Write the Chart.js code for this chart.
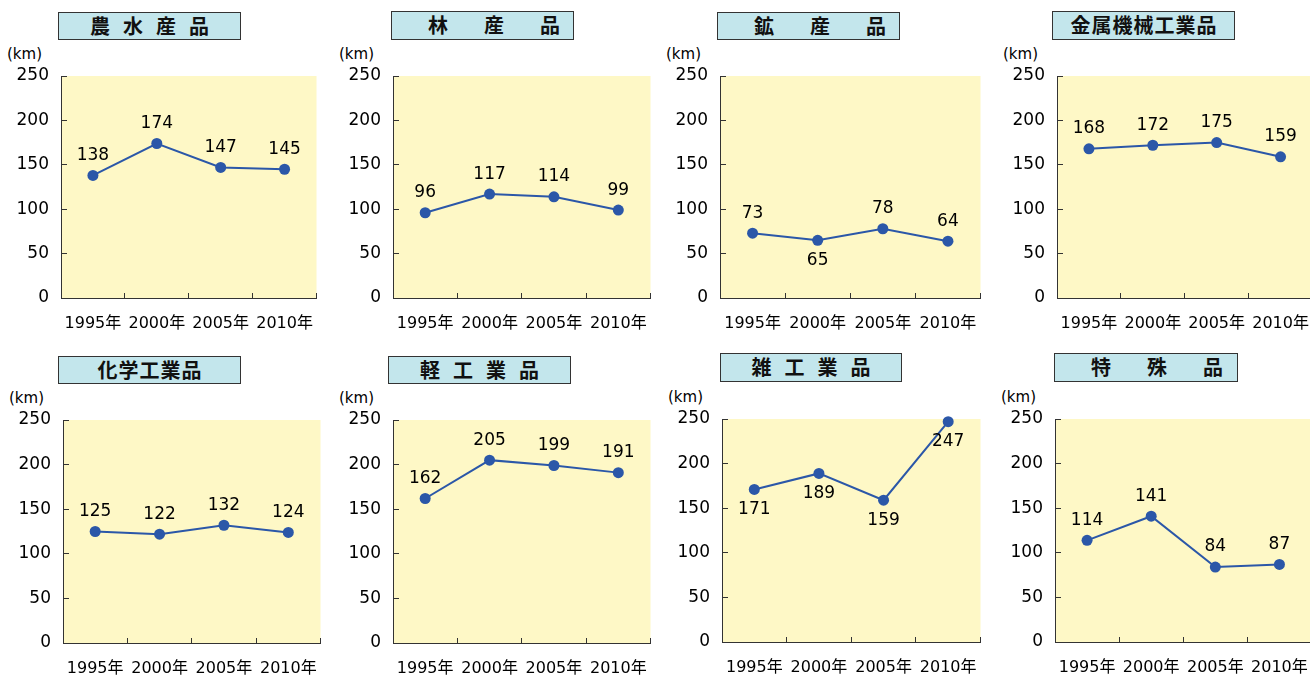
<!DOCTYPE html>
<html lang="ja">
<head>
<meta charset="utf-8">
<script src="https://cdn.jsdelivr.net/npm/chart.js@4.4.1/dist/chart.umd.min.js"></script>
<style>
  html, body { margin:0; padding:0; background:#ffffff; }
  #stage { position:relative; width:1310px; height:675px; overflow:hidden; background:#ffffff; }
  .ttl { position:absolute; box-sizing:border-box; border:1.5px solid #333; background:#C3E6EC;
         font-family:'Noto Sans CJK JP', sans-serif; font-weight:700; font-size:20px; color:#111;
         text-align:center; white-space:nowrap; }
  .unit { position:absolute; font-family:'DejaVu Sans', 'Noto Sans CJK JP', sans-serif; font-size:15px; color:#000; white-space:nowrap; }
  canvas { position:absolute; }
</style>
</head>
<body>
<div id="stage"></div>
<script>
// ---- data ----
const categories = ['1995年', '2000年', '2005年', '2010年'];
const titles = ['農水産品', '林産品', '鉱産品', '金属機械工業品', '化学工業品', '軽工業品', '雑工業品', '特殊品'];
const unitLabel = '(km)';
const agriculture = [138, 174, 147, 145];
const forestry    = [96, 117, 114, 99];
const mineral     = [73, 65, 78, 64];
const metalMach   = [168, 172, 175, 159];
const chemical    = [125, 122, 132, 124];
const lightInd    = [162, 205, 199, 191];
const miscInd     = [171, 189, 159, 247];
const special     = [114, 141, 84, 87];
const yMin = 0, yMax = 250, yStep = 50;

const seriesList = [agriculture, forestry, mineral, metalMach, chemical, lightInd, miscInd, special];

// ---- layout (positions / styles) ----
const panels = [
  { l:61,   t:76,  r:318,  b:298, tl:58,   tt:12,  tr:241,  tb:40,  ls:13, below:[0,0,0,0] },
  { l:393,  t:76,  r:652,  b:298, tl:391,  tt:11,  tr:574,  tb:40,  ls:36, below:[0,0,0,0] },
  { l:720,  t:76,  r:982,  b:298, tl:717,  tt:12,  tr:900,  tb:40,  ls:36, below:[0,1,0,0] },
  { l:1057, t:76,  r:1314, b:298, tl:1052, tt:11,  tr:1235, tb:40,  ls:1,  below:[0,0,0,0] },
  { l:63,   t:420, r:322,  b:643, tl:58,   tt:356, tr:241,  tb:384, ls:1,  below:[0,0,0,0] },
  { l:393,  t:420, r:652,  b:643, tl:388,  tt:356, tr:571,  tb:384, ls:13, below:[0,0,0,0] },
  { l:722,  t:419, r:982,  b:642, tl:720,  tt:353, tr:902,  tb:382, ls:13, below:[1,1,1,1] },
  { l:1055, t:419, r:1313, b:642, tl:1054, tt:353, tr:1238, tb:382, ls:36, below:[0,0,0,0] }
];

const YW = 60, PT = 16, PR = 4, XH = 40;
const fam = "'DejaVu Sans', 'Noto Sans CJK JP', sans-serif";
const yFont = { family: fam, size: 17 };
const xFont = { family: fam, size: 16 };
const lineColor = '#2B57A8';
const axisColor = '#333333';
const plotBg = '#FEF8C6';

const bgPlugin = {
  id: 'plotBg',
  beforeDraw(chart) {
    const { ctx, chartArea: a } = chart;
    ctx.save();
    ctx.fillStyle = plotBg;
    ctx.fillRect(a.left, a.top, a.right - a.left, a.bottom - a.top);
    ctx.restore();
  }
};

const labelPlugin = {
  id: 'valLabels',
  afterDatasetsDraw(chart, args, opts) {
    const { ctx } = chart;
    const meta = chart.getDatasetMeta(0);
    const vals = chart.data.datasets[0].data;
    ctx.save();
    ctx.font = '17px ' + fam;
    ctx.fillStyle = '#000';
    ctx.textAlign = 'center';
    ctx.textBaseline = 'middle';
    meta.data.forEach((pt, i) => {
      const dy = opts.below[i] ? 20 : -20;
      ctx.fillText(String(vals[i]), pt.x, pt.y + dy);
    });
    ctx.restore();
  }
};

function zeroPad(s) { s.paddingTop = 0; s.paddingBottom = 0; s.paddingLeft = 0; s.paddingRight = 0; }

const stage = document.getElementById('stage');

panels.forEach((p, idx) => {
  // title box
  const tdiv = document.createElement('div');
  tdiv.className = 'ttl';
  tdiv.style.left = p.tl + 'px';
  tdiv.style.top = p.tt + 'px';
  tdiv.style.width = (p.tr - p.tl) + 'px';
  tdiv.style.height = (p.tb - p.tt) + 'px';
  tdiv.style.lineHeight = (p.tb - p.tt - 3) + 'px';
  tdiv.style.letterSpacing = p.ls + 'px';
  tdiv.style.paddingLeft = p.ls + 'px';
  tdiv.textContent = titles[idx];
  stage.appendChild(tdiv);

  // unit label
  const u = document.createElement('div');
  u.className = 'unit';
  u.style.left = (p.l - 54) + 'px';
  u.style.top = (p.t - 31) + 'px';
  u.textContent = unitLabel;
  stage.appendChild(u);

  // canvas
  const cv = document.createElement('canvas');
  const w = YW + (p.r - p.l) + PR;
  const h = PT + (p.b - p.t) + XH;
  cv.width = w; cv.height = h;
  cv.style.width = w + 'px'; cv.style.height = h + 'px';
  cv.style.left = (p.l - YW) + 'px';
  cv.style.top = (p.t - PT) + 'px';
  stage.appendChild(cv);

  new Chart(cv, {
    type: 'line',
    data: {
      labels: categories,
      datasets: [{
        data: seriesList[idx],
        borderColor: lineColor,
        backgroundColor: lineColor,
        borderWidth: 2,
        pointRadius: 5.5,
        pointBorderWidth: 0,
        pointBackgroundColor: lineColor,
        tension: 0,
        clip: false
      }]
    },
    options: {
      responsive: false,
      animation: false,
      devicePixelRatio: 1,
      layout: { padding: { top: PT, right: PR, left: 0, bottom: 0 } },
      plugins: {
        legend: { display: false },
        tooltip: { enabled: false },
        valLabels: { below: p.below }
      },
      scales: {
        x: {
          type: 'category',
          offset: true,
          grid: { offset: true, drawOnChartArea: false, drawTicks: true, tickLength: -5, color: axisColor, lineWidth: 1 },
          border: { color: axisColor, width: 1 },
          ticks: { font: xFont, color: '#000', padding: 21, maxRotation: 0, autoSkip: false },
          afterFit(s) { s.height = XH; zeroPad(s); }
        },
        y: {
          min: yMin, max: yMax,
          grid: { drawOnChartArea: false, drawTicks: true, tickLength: -6, color: axisColor, lineWidth: 1 },
          border: { color: axisColor, width: 1 },
          ticks: { stepSize: yStep, font: yFont, color: '#000', padding: 18 },
          afterFit(s) { s.width = YW; zeroPad(s); }
        }
      }
    },
    plugins: [bgPlugin, labelPlugin]
  });
});
</script>
</body>
</html>
